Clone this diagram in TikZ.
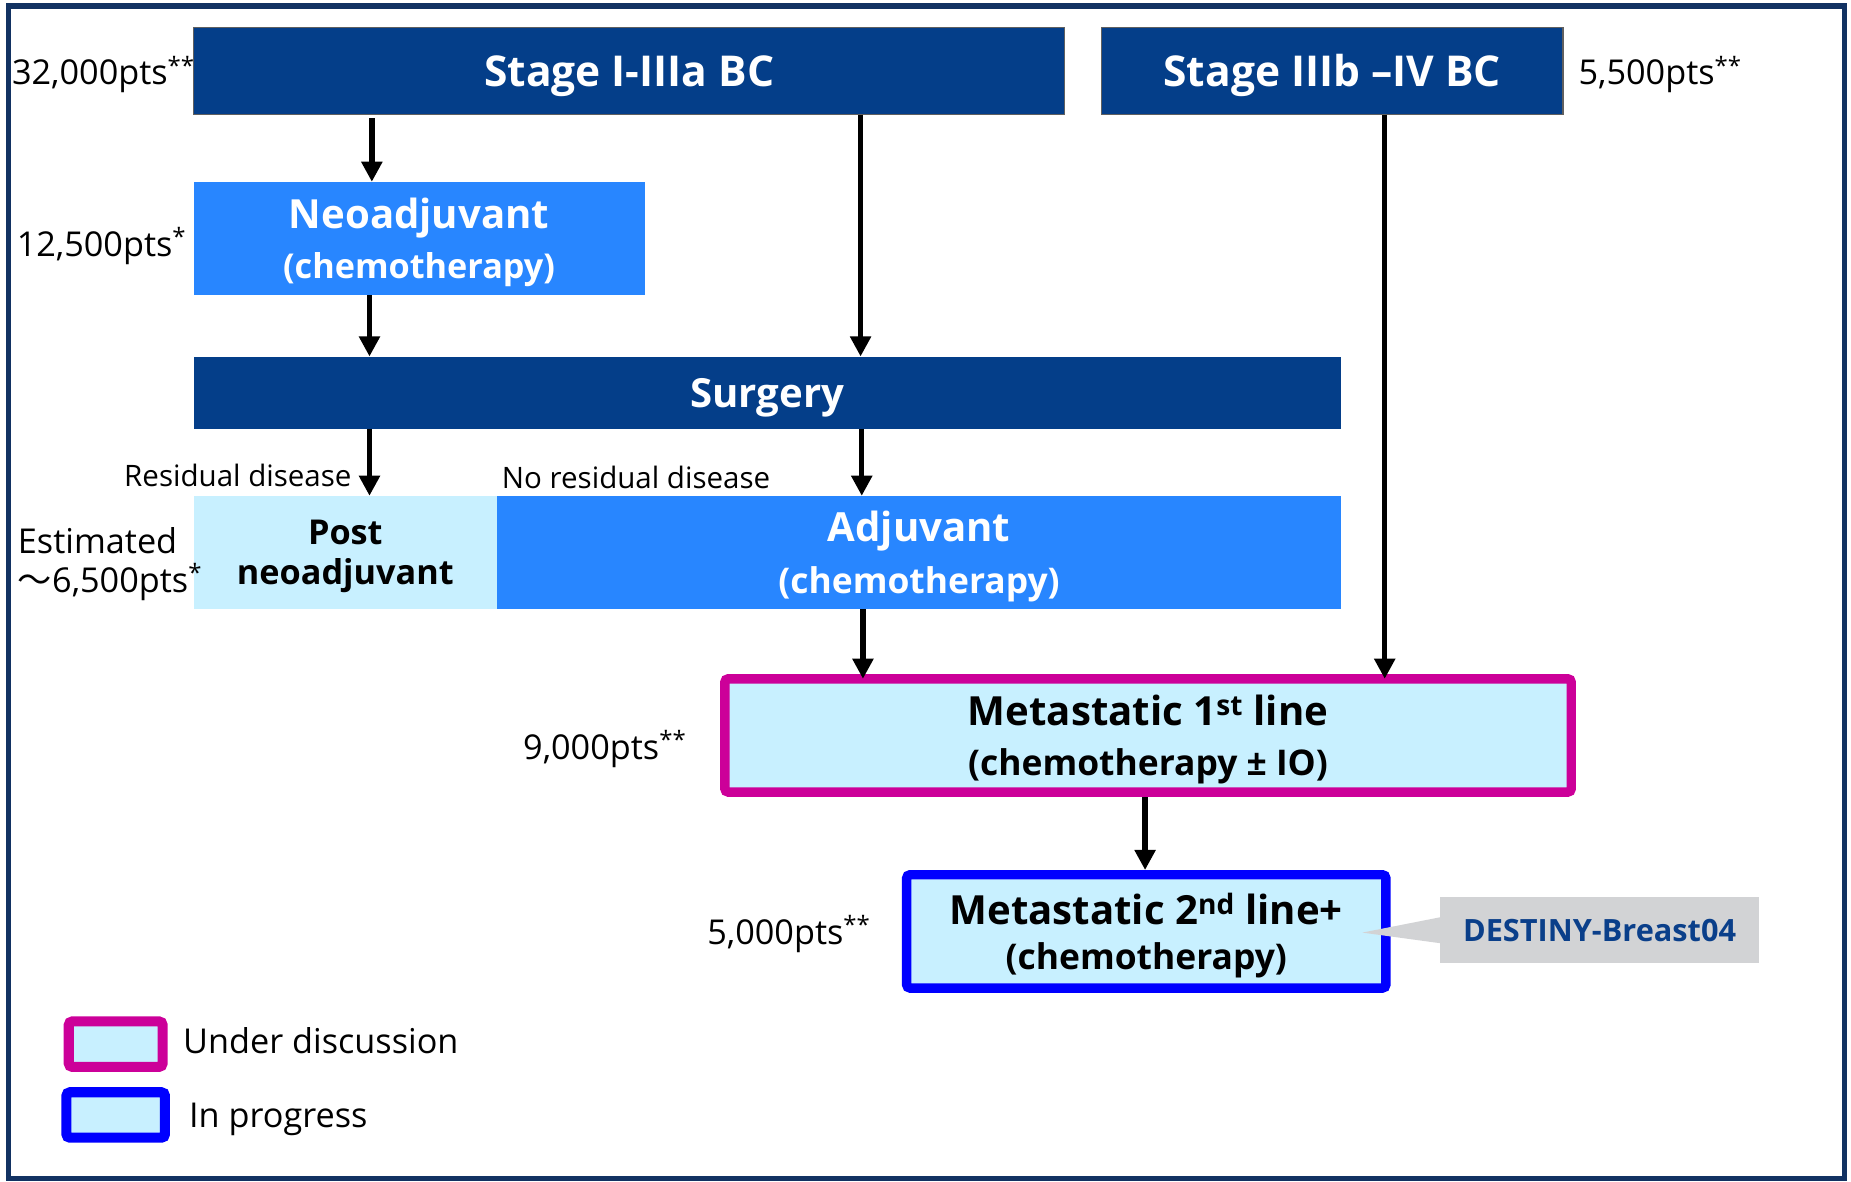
\documentclass[tikz,border=0pt]{standalone}
\usepackage{fontspec}
\setmainfont{Open Sans}
\newfontfamily\cjk{Noto Sans CJK JP}
\usetikzlibrary{arrows.meta,calc}

\definecolor{navy}{RGB}{4,62,137}
\definecolor{brightblue}{RGB}{40,134,255}
\definecolor{palecyan}{RGB}{200,240,255}
\definecolor{magentaedge}{RGB}{204,0,153}
\definecolor{blueedge}{RGB}{0,0,255}
\definecolor{calloutgrey}{RGB}{210,211,213}
\definecolor{calloutink}{RGB}{10,63,138}
\definecolor{framenavy}{RGB}{18,50,98}

\newcommand{\fsz}[2]{\fontsize{#1}{#2}\selectfont}

\begin{document}
\begin{tikzpicture}[x=1pt,y=-1pt,
  box/.style={rectangle, inner sep=0pt, outer sep=0pt, align=center, text depth=0pt},
  darkbox/.style={box, fill=navy, text=white, font=\bfseries\fsz{36}{44}},
  stagebox/.style={darkbox, draw=gray!75!black, line width=1pt, minimum height=74},
  brightbox/.style={box, fill=brightblue, text=white, font=\bfseries\fsz{34}{44}},
  palebox/.style={box, fill=palecyan, text=black, font=\bfseries\fsz{29}{34}},
  metabox/.style={box, fill=palecyan, text=black, line width=8pt, rounded corners=3pt,
    font=\bfseries\fsz{34}{44}},
  legendbox/.style={rectangle, fill=palecyan, line width=8.5pt, rounded corners=3pt,
    minimum height=38.5, inner sep=0pt, outer sep=0pt},
  count/.style={font=\fsz{29}{33}, inner sep=0pt},
  branch/.style={font=\fsz{25}{30}, inner sep=0pt},
  arr/.style={line width=4.5pt, -{Triangle[width=17pt,length=17pt]}},
]
\useasboundingbox (0,0) rectangle (1568,1001);

% outer frame
\draw[framenavy, line width=4.5pt] (7,5) rectangle (1562.5,998.5);

% stage boxes
\node[stagebox, minimum width=738] (stageA) at (533,60) {Stage I-IIIa BC};
\node[stagebox, minimum width=391] (stageB) at (1128.5,60) {Stage IIIb –IV BC};

% treatment steps
\node[brightbox, minimum width=382, minimum height=96] (neo) at (355,202)
  {Neoadjuvant\\[-2pt]{\fsz{29}{40}(chemotherapy)}};
\node[darkbox, font=\bfseries\fsz{34}{44}, minimum width=972, minimum height=61] (surg) at (650,332.5) {Surgery};
\node[palebox, minimum width=257, minimum height=96] (post) at (292.5,468) {Post\\neoadjuvant};
\node[brightbox, minimum width=715, minimum height=96] (adj) at (778.5,468)
  {Adjuvant\\[0pt]{\fsz{30}{40}(chemotherapy)}};

% metastatic lines
\node[metabox, draw=magentaedge, minimum width=717, minimum height=96] (meta1) at (972.5,623)
  {Metastatic 1\textsuperscript{st} line\\[-2pt]{\fsz{30}{40}(chemotherapy ± IO)}};
\node[metabox, draw=blueedge, minimum width=406, minimum height=96] (meta2) at (971,789)
  {Metastatic 2\textsuperscript{nd} line+\\[-6pt]{\fsz{30}{40}(chemotherapy)}};

% trial callout
\node[box, fill=calloutgrey, text=calloutink, font=\bfseries\fsz{26}{30},
  minimum width=270, minimum height=56] (trial) at (1355,788) {DESTINY-Breast04};
\coordinate (tip) at ([xshift=-20,yshift=-1]meta2.east);
\fill[calloutgrey] ([yshift=11]trial.west) -- (tip) -- ([yshift=-11]trial.west) -- cycle;

% patient counts
\node[count, anchor=base west] (nA) at (10,72) {32,000pts\textsuperscript{**}};
\node[count, anchor=base west] (nB) at (1337,72) {5,500pts\textsuperscript{**}};
\node[count, anchor=base west] (nNeo) at (14,217) {12,500pts\textsuperscript{*}};
\node[count, anchor=base west, align=left] (nPost) at (15,502)
  {Estimated\\{\cjk ～}6,500pts\textsuperscript{*}};
\node[count, anchor=base west] (nM1) at (443,643) {9,000pts\textsuperscript{**}};
\node[count, anchor=base west] (nM2) at (599,800) {5,000pts\textsuperscript{**}};

% branch labels
\node[branch, anchor=base east] (res) at (298,412) {Residual disease};
\node[branch, anchor=base west] (nores) at (425,414) {No residual disease};

% legend
\node[legendbox, draw=magentaedge, minimum width=79.5] (legA) at (98,884.5) {};
\node[legendbox, draw=blueedge, minimum width=83.5] (legB) at (98,944.5) {};
\node[count, anchor=base west] (legAt) at (155,892) {Under discussion};
\node[count, anchor=base west] (legBt) at (160,955) {In progress};

% connectors
\coordinate (c3) at ([xshift=240]stageB.south west);
\coordinate (c7) at ([xshift=310,yshift=0]adj.south west);
\coordinate (c8) at ([xshift=-2.5,yshift=-4]meta1.south);
\draw[arr] ([xshift=151,yshift=-3]stageA.south west) -- ([xshift=151]neo.north west);
\draw[arr] ([xshift=565]stageA.south west) -- ([xshift=565]surg.north west);
\draw[arr] (c3) -- (c3 |- meta1.north);
\draw[arr] ([xshift=149]neo.south west) -- ([xshift=149]surg.north west);
\draw[arr] ([xshift=149]surg.south west) -- ([xshift=149]post.north west);
\draw[arr] ([xshift=566]surg.south west) -- ([xshift=309]adj.north west);
\draw[arr] (c7) -- (c7 |- meta1.north);
\draw[arr] (c8) -- ([yshift=4]c8 |- meta2.north);
\end{tikzpicture}
\end{document}
